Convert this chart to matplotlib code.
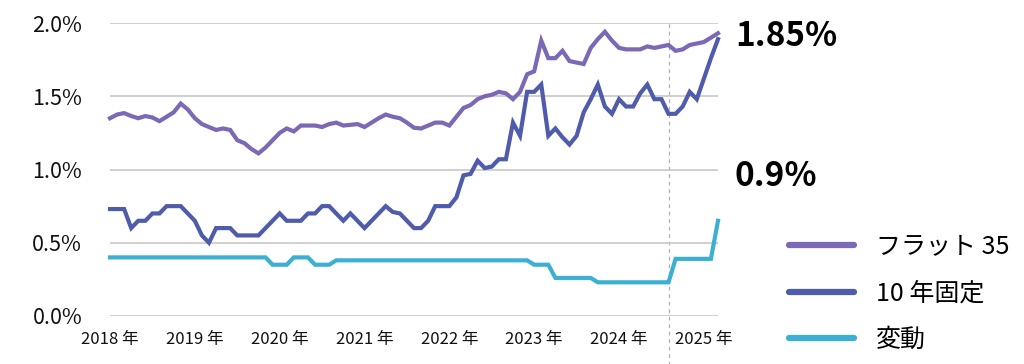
import matplotlib
matplotlib.use("Agg")
import matplotlib.pyplot as plt
import numpy as np

plt.rcParams['font.family'] = ['Noto Sans CJK JP', 'DejaVu Sans']

# monthly rates, Jan 2018 - Mar 2025 (%)
flat35 = [1.35, 1.375, 1.385, 1.365, 1.35, 1.365, 1.355, 1.33, 1.36, 1.39,
          1.45, 1.41, 1.35, 1.31, 1.29, 1.27, 1.28, 1.27, 1.20, 1.18,
          1.14, 1.11, 1.15, 1.20, 1.25, 1.28, 1.26, 1.30, 1.30, 1.30,
          1.29, 1.31, 1.32, 1.30, 1.305, 1.31, 1.29, 1.32, 1.35, 1.375,
          1.36, 1.35, 1.32, 1.285, 1.28, 1.30, 1.32, 1.32, 1.30, 1.36,
          1.42, 1.44, 1.48, 1.50, 1.51, 1.53, 1.52, 1.48, 1.53, 1.65,
          1.67, 1.88, 1.76, 1.76, 1.81, 1.74, 1.73, 1.72, 1.83, 1.89,
          1.94, 1.88, 1.83, 1.82, 1.82, 1.82, 1.84, 1.83, 1.84, 1.85,
          1.81, 1.82, 1.85, 1.86, 1.87, 1.90, 1.93]
fixed10 = [0.73, 0.73, 0.73, 0.60, 0.65, 0.65, 0.70, 0.70, 0.75, 0.75,
           0.75, 0.70, 0.65, 0.55, 0.50, 0.60, 0.60, 0.60, 0.55, 0.55,
           0.55, 0.55, 0.60, 0.65, 0.70, 0.65, 0.65, 0.65, 0.70, 0.70,
           0.75, 0.75, 0.70, 0.65, 0.70, 0.65, 0.60, 0.65, 0.70, 0.75,
           0.71, 0.70, 0.65, 0.60, 0.60, 0.65, 0.75, 0.75, 0.75, 0.81,
           0.96, 0.97, 1.06, 1.01, 1.02, 1.07, 1.07, 1.32, 1.23, 1.53,
           1.53, 1.58, 1.23, 1.28, 1.22, 1.17, 1.23, 1.39, 1.48, 1.58,
           1.43, 1.38, 1.48, 1.43, 1.43, 1.52, 1.58, 1.48, 1.48, 1.38,
           1.38, 1.43, 1.53, 1.48, 1.62, 1.76, 1.89]
variable = [0.40] * 23 + [0.35, 0.35, 0.35, 0.40, 0.40, 0.40, 0.35, 0.35, 0.35] \
    + [0.38] * 28 + [0.35, 0.35, 0.35] + [0.26] * 6 + [0.23] * 11 \
    + [0.39] * 6 + [0.65]

labels = ['フラット 35', '10 年固定', '変動']
colors = ['#7b69b6', '#4f5bab', '#3cb0d3']
years = ['2018 年', '2019 年', '2020 年', '2021 年', '2022 年', '2023 年', '2024 年', '2025 年']
year_pos = [0, 12, 24, 36, 48, 60, 72, 84]
yticks = [0.0, 0.5, 1.0, 1.5, 2.0]
marker_month = 79
callouts = ['1.85%', '0.9%']

fig = plt.figure(figsize=(10.24, 3.64), dpi=100)
ax = fig.add_axes([110 / 1024, 1 - 316 / 364, 608 / 1024, 293 / 364])

x = np.arange(len(flat35))
for series, lab, col in zip([flat35, fixed10, variable], labels, colors):
    ax.plot(x, series, color=col, lw=3, label=lab, clip_on=False,
            solid_joinstyle='miter', zorder=3)

ax.set_xlim(0, len(flat35) - 1)
ax.set_ylim(0, 2.0)
ax.set_yticks(yticks)
ax.set_yticklabels([f'{v:.1f}%' for v in yticks], fontsize=15.5, color='#111111')
ax.set_xticks(year_pos)
ax.set_xticklabels(years, fontsize=12, color='#111111')
ax.tick_params(axis='y', length=0, pad=20)
ax.tick_params(axis='x', length=0, pad=11)
ax.grid(axis='y', color='#c8c8c8', lw=1.2)
for s in ax.spines.values():
    s.set_visible(False)

ax.axvline(marker_month, ymin=-0.2, ymax=1, color='#b0b0b0', lw=0.9,
           ls=(0, (3, 3)), clip_on=False, zorder=1)

fig.text(735 / 1024, 1 - 36 / 364, callouts[0], fontsize=24, fontweight='bold',
         va='center', ha='left')
fig.text(734 / 1024, 1 - 176 / 364, callouts[1], fontsize=24, fontweight='bold',
         va='center', ha='left')

leg = fig.legend(loc='upper left', bbox_to_anchor=(766 / 1024, 1 - 211 / 364),
                 frameon=False, prop={'size': 18},
                 handlelength=2.6, handletextpad=0.9, labelspacing=0.83)
for h in leg.get_lines():
    h.set_linewidth(4.5)
    h.set_solid_capstyle('round')

fig.savefig('out.png', dpi=100)
